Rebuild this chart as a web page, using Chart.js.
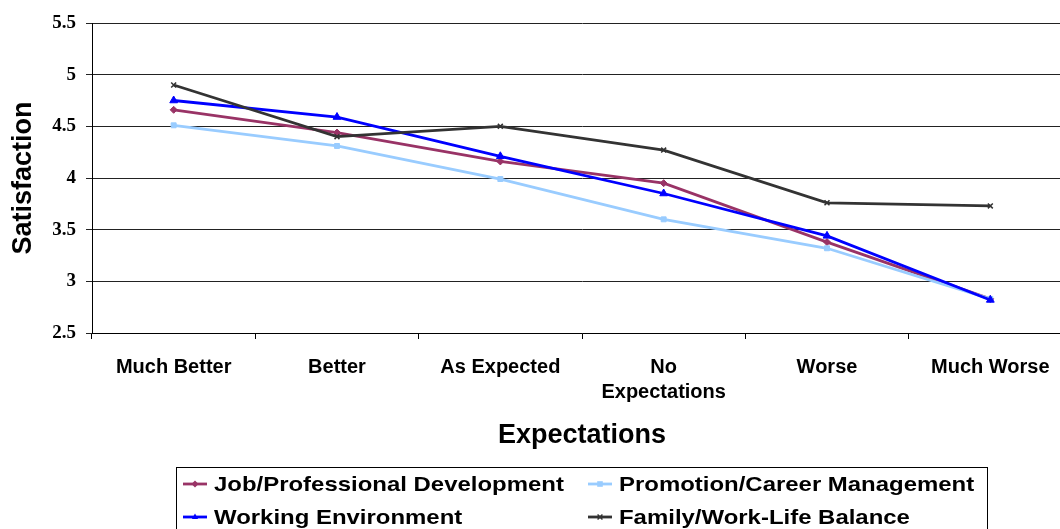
<!DOCTYPE html>
<html>
<head>
<meta charset="utf-8">
<title>Satisfaction by Expectations</title>
<script src="https://cdn.jsdelivr.net/npm/chart.js@4.4.1/dist/chart.umd.min.js"></script>
<style>
  html, body { margin: 0; padding: 0; background: #fff; overflow: hidden; }
  #wrap { position: relative; width: 1080px; height: 529px; }
  canvas { display: block; }
</style>
</head>
<body>
<div id="wrap"><canvas id="chart" width="1080" height="529"></canvas></div>
<script>
// Categories along the x axis (multi-line label for "No Expectations")
const categories = ['Much Better', 'Better', 'As Expected', ['No', 'Expectations'], 'Worse', 'Much Worse'];

// Mean satisfaction per series
const jobDevelopment     = [4.66, 4.44, 4.16, 3.95, 3.38, 2.83];
const promotionCareer    = [4.51, 4.31, 3.99, 3.60, 3.32, 2.83];
const workingEnvironment = [4.75, 4.59, 4.21, 3.85, 3.44, 2.82];
const familyWorkLife     = [4.90, 4.40, 4.50, 4.27, 3.76, 3.73];

// Series names
const seriesNames = ['Job/Professional Development', 'Promotion/Career Management', 'Working Environment', 'Family/Work-Life Balance'];

// Value axis range
const yMin = 2.5, yMax = 5.5, yStep = 0.5;

const seriesStyles = [
  { color: '#993366', point: 'rectRot',  radius: 3.5 },
  { color: '#99CCFF', point: 'rect',     radius: 3.5 },
  { color: '#0000FF', point: 'triangle', radius: 4.5 },
  { color: '#333333', point: 'crossRot', radius: 3.5 }
];
const seriesData = [jobDevelopment, promotionCareer, workingEnvironment, familyWorkLife];

const datasets = seriesData.map((values, i) => ({
  label: seriesNames[i],
  data: values,
  borderColor: seriesStyles[i].color,
  backgroundColor: seriesStyles[i].color,
  pointBackgroundColor: seriesStyles[i].color,
  pointBorderColor: seriesStyles[i].color,
  pointStyle: seriesStyles[i].point,
  pointRadius: seriesStyles[i].radius,
  pointBorderWidth: seriesStyles[i].point === 'crossRot' ? 1.5 : 1,
  borderWidth: 2.8,
  tension: 0,
  fill: false,
  order: seriesData.length - i
}));

// Small marker painter for the legend samples
function drawMarker(ctx, style, color, x, y, r) {
  ctx.save();
  ctx.fillStyle = color;
  ctx.strokeStyle = color;
  ctx.lineWidth = 1.5;
  ctx.beginPath();
  if (style === 'rectRot') {
    ctx.moveTo(x, y - r); ctx.lineTo(x + r, y); ctx.lineTo(x, y + r); ctx.lineTo(x - r, y); ctx.closePath(); ctx.fill();
  } else if (style === 'rect') {
    ctx.rect(x - r * 0.8, y - r * 0.8, r * 1.6, r * 1.6); ctx.fill();
  } else if (style === 'triangle') {
    ctx.moveTo(x, y - r); ctx.lineTo(x + r * 0.9, y + r * 0.6); ctx.lineTo(x - r * 0.9, y + r * 0.6); ctx.closePath(); ctx.fill();
  } else {
    ctx.moveTo(x - r * 0.7, y - r * 0.7); ctx.lineTo(x + r * 0.7, y + r * 0.7);
    ctx.moveTo(x + r * 0.7, y - r * 0.7); ctx.lineTo(x - r * 0.7, y + r * 0.7); ctx.stroke();
  }
  ctx.restore();
}

// Boxed two-column legend under the axis title
const boxedLegend = {
  id: 'boxedLegend',
  afterDraw(chart) {
    const ctx = chart.ctx;
    ctx.save();
    ctx.strokeStyle = '#000';
    ctx.lineWidth = 1;
    ctx.strokeRect(176.5, 467.5, 811, 80);
    const cols = [183, 588];
    const rows = [484, 517];
    ctx.font = 'bold 21px "Liberation Sans", Arial, sans-serif';
    ctx.textBaseline = 'middle';
    ctx.fillStyle = '#000';
    seriesNames.forEach((name, i) => {
      const x = cols[i % 2], y = rows[Math.floor(i / 2)];
      const st = seriesStyles[i];
      ctx.save();
      ctx.strokeStyle = st.color;
      ctx.lineWidth = 2.8;
      ctx.beginPath();
      ctx.moveTo(x, y); ctx.lineTo(x + 24, y);
      ctx.stroke();
      ctx.restore();
      drawMarker(ctx, st.point, st.color, x + 12, y, 3.5);
      ctx.save();
      ctx.translate(x + 31, y + 1);
      ctx.scale(1.14, 1);
      ctx.fillText(name, 0, 0);
      ctx.restore();
    });
    ctx.restore();
  }
};

new Chart(document.getElementById('chart'), {
  type: 'line',
  data: { labels: categories, datasets: datasets },
  plugins: [boxedLegend],
  options: {
    responsive: false,
    animation: false,
    layout: { padding: { top: 23, right: 8, bottom: 76, left: 0 } },
    plugins: {
      legend: { display: false },
      tooltip: { enabled: false }
    },
    scales: {
      x: {
        type: 'category',
        offset: true,
        grid: {
          display: true,
          drawOnChartArea: false,
          drawTicks: true,
          tickLength: 6,
          offset: true,
          color: '#000'
        },
        border: { display: true, color: '#000', width: 1 },
        ticks: {
          color: '#000',
          padding: 16,
          maxRotation: 0,
          autoSkip: false,
          font: { family: '"Liberation Sans", Arial, sans-serif', size: 20, weight: 'bold', lineHeight: '25px' }
        },
        title: {
          display: true,
          text: 'Expectations',
          color: '#000',
          padding: { top: 0, bottom: 1 },
          font: { family: '"Liberation Sans", Arial, sans-serif', size: 27, weight: 'bold' }
        },
        afterFit(scale) { scale.height = 120; }
      },
      y: {
        min: yMin,
        max: yMax,
        ticks: {
          stepSize: yStep,
          color: '#000',
          padding: 10,
          callback: (value) => String(value),
          font: { family: '"Liberation Serif", "Times New Roman", serif', size: 19, weight: 'bold' }
        },
        grid: {
          color: '#222',
          lineWidth: 1,
          tickLength: 6,
          drawTicks: true
        },
        border: { display: true, color: '#000', width: 1 },
        title: {
          display: true,
          text: 'Satisfaction',
          color: '#000',
          padding: { top: 7, bottom: 0 },
          font: { family: '"Liberation Sans", Arial, sans-serif', size: 27, weight: 'bold' }
        },
        afterFit(scale) { scale.width = 92; }
      }
    }
  }
});
</script>
</body>
</html>
